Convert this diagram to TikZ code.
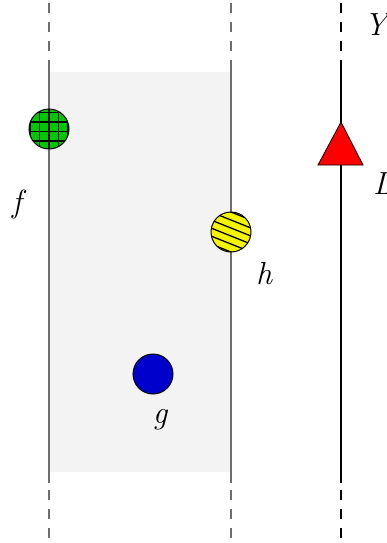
\documentclass[tikz,border=0pt]{standalone}
\begin{document}
\begin{tikzpicture}[x=1pt,y=-1pt,
  vline/.style={line width=1.4pt},
  dline/.style={line width=1.4pt,dash pattern=on 10pt off 9pt},
  ball/.style={circle,draw=black,line width=1pt,minimum size=40pt,inner sep=0pt},
  lbl/.style={inner sep=0pt,font=\fontsize{32}{38}\selectfont\itshape},
  gridline/.style={black,line width=1.8pt},
  stripe/.style={black,line width=1.3pt}]
\useasboundingbox (0,0) rectangle (387,543);
\definecolor{panel}{HTML}{F3F3F3}
\definecolor{lgray}{HTML}{6E6E6E}
\definecolor{ballgreen}{HTML}{00C800}
\definecolor{ballyellow}{HTML}{F5F500}
\definecolor{ballblue}{HTML}{0000CC}
\definecolor{trired}{HTML}{FF0000}
% panel
\fill[panel] (49,72) rectangle (231,472);
% vertical lines
\foreach \x/\c in {49/lgray,231/lgray,341/black}{
  \draw[dline,draw=\c] (\x,3) -- (\x,67);
  \draw[vline,draw=\c] (\x,67) -- (\x,483);
  \draw[dline,draw=\c] (\x,490) -- (\x,543);
}
% green grid ball
\node[ball,fill=ballgreen,path picture={
  \foreach \d in {-19,-9.5,0,9.5,19}{
    \draw[gridline] ([xshift=\d pt]path picture bounding box.north) -- ([xshift=\d pt]path picture bounding box.south);}
  \foreach \d in {-21.5,-12,-2.5,7,16.5}{
    \draw[gridline] ([yshift=\d pt]path picture bounding box.west) -- ([yshift=\d pt]path picture bounding box.east);}
}] (fball) at (49,129) {};
% yellow striped ball
\node[ball,fill=ballyellow,path picture={
  \foreach \d in {-36,-28,-20,-12,-4,4,12,20,28,36}{
    \draw[stripe] ([shift={(-30pt,\d pt+12pt)}]path picture bounding box.center) -- ([shift={(30pt,\d pt-12pt)}]path picture bounding box.center);}
}] (hball) at (231,232) {};
% blue ball
\node[ball,fill=ballblue] (gball) at (153,374) {};
% triangle
\draw[fill=trired,draw=black,line width=0.8pt] (341,122) coordinate (tapex) -- (363,165) -- (318,165) -- cycle;
% labels
\node[lbl] (fl) at (17,204) {f};
\node[lbl] (hl) at (264,274) {h};
\node[lbl] (gl) at (160,420) {g};
\node[lbl,anchor=west] (yl) at (364,25) {Y};
\node[lbl,anchor=west] (ll) at (373,184) {L};
\end{tikzpicture}
\end{document}
